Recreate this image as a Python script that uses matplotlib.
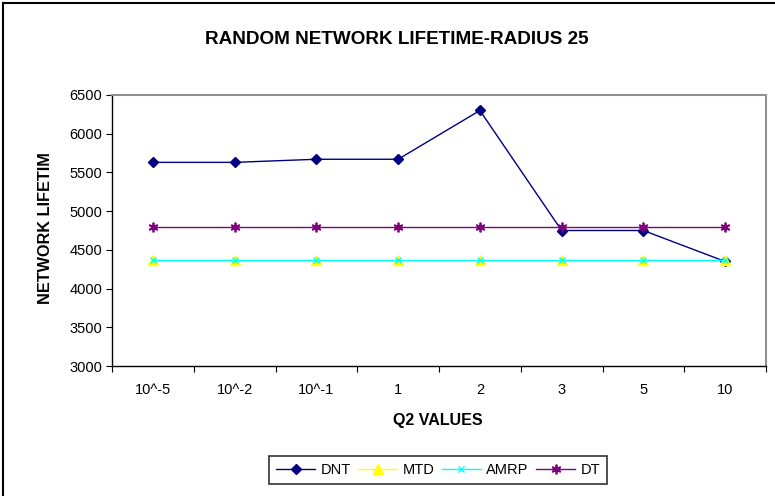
import matplotlib
matplotlib.use("Agg")
import matplotlib.pyplot as plt
from matplotlib.lines import Line2D

categories = ["10^-5", "10^-2", "10^-1", "1", "2", "3", "5", "10"]
dnt = [5630, 5630, 5670, 5670, 6300, 4750, 4750, 4350]
mtd = [4370, 4370, 4370, 4370, 4370, 4370, 4370, 4370]
amrp = [4370, 4370, 4370, 4370, 4370, 4370, 4370, 4370]
dt = [4800, 4800, 4800, 4800, 4800, 4800, 4800, 4800]
yticks = [3000, 3500, 4000, 4500, 5000, 5500, 6000, 6500]

plt.rcParams['font.family'] = ['Liberation Sans', 'DejaVu Sans']

fig = plt.figure(figsize=(7.75, 4.96), dpi=100)
W, H = 775, 496
ax = fig.add_axes([112 / W, (H - 366) / H, (766 - 112) / W, (366 - 95) / H])

x = [i + 0.5 for i in range(len(categories))]
ax.plot(x, dnt, color="#000080", marker="D", markersize=5, lw=1, label="DNT")
ax.plot(x, mtd, color="#FFFF00", marker="^", markersize=7, lw=1, label="MTD")
ax.plot(x, amrp, color="#00FFFF", marker="x", markersize=5, lw=1, label="AMRP")
ax.plot(x, dt, color="#800080", marker=(6, 2, 0), markersize=7, lw=1,
        markeredgewidth=1.3, label="DT")

ax.set_xlim(0, len(categories))
ax.set_ylim(3000, 6500)
ax.set_yticks(yticks)
ax.set_yticklabels([str(v) for v in yticks], fontsize=10.5)
ax.set_xticks(range(len(categories) + 1))
ax.set_xticklabels([])
ax.set_xticks(x, minor=True)
ax.set_xticklabels(categories, minor=True, fontsize=10.5)
ax.tick_params(axis='x', which='minor', length=0, pad=12)
ax.tick_params(axis='x', which='major', length=4, direction='out')
ax.tick_params(axis='y', length=4, direction='out', pad=3)

for s in ["left", "bottom"]:
    ax.spines[s].set_color("black")
    ax.spines[s].set_linewidth(1)
for s in ["top", "right"]:
    ax.spines[s].set_color("#909090")
    ax.spines[s].set_linewidth(1.5)

fig.text(397 / W, 1 - 39.5 / H, "RANDOM NETWORK LIFETIME-RADIUS 25",
         ha="center", va="center", fontsize=13.6, fontweight="bold")
fig.text(46 / W, 1 - 228 / H, "NETWORK LIFETIM", rotation=90,
         ha="center", va="center", fontsize=11.7, fontweight="bold")
fig.text(438 / W, 1 - 420 / H, "Q2 VALUES", ha="center", va="center",
         fontsize=11.5, fontweight="bold")

handles, labels = ax.get_legend_handles_labels()
leg = fig.legend(handles, labels, loc="center", ncol=4,
                 bbox_to_anchor=(438 / W, 1 - 470 / H), fontsize=10.5,
                 frameon=True, fancybox=False, edgecolor="black",
                 handlelength=2.7, handletextpad=0.35, columnspacing=0.5,
                 borderpad=0.45)
leg.get_frame().set_linewidth(1.2)

# outer border
fig.add_artist(Line2D([3 / W, 3 / W], [0, 1 - 3 / H], color="black", lw=1.5,
                      transform=fig.transFigure))
fig.add_artist(Line2D([3 / W, 1], [1 - 3 / H, 1 - 3 / H], color="black", lw=1.5,
                      transform=fig.transFigure))

fig.savefig("out.png", dpi=100)
